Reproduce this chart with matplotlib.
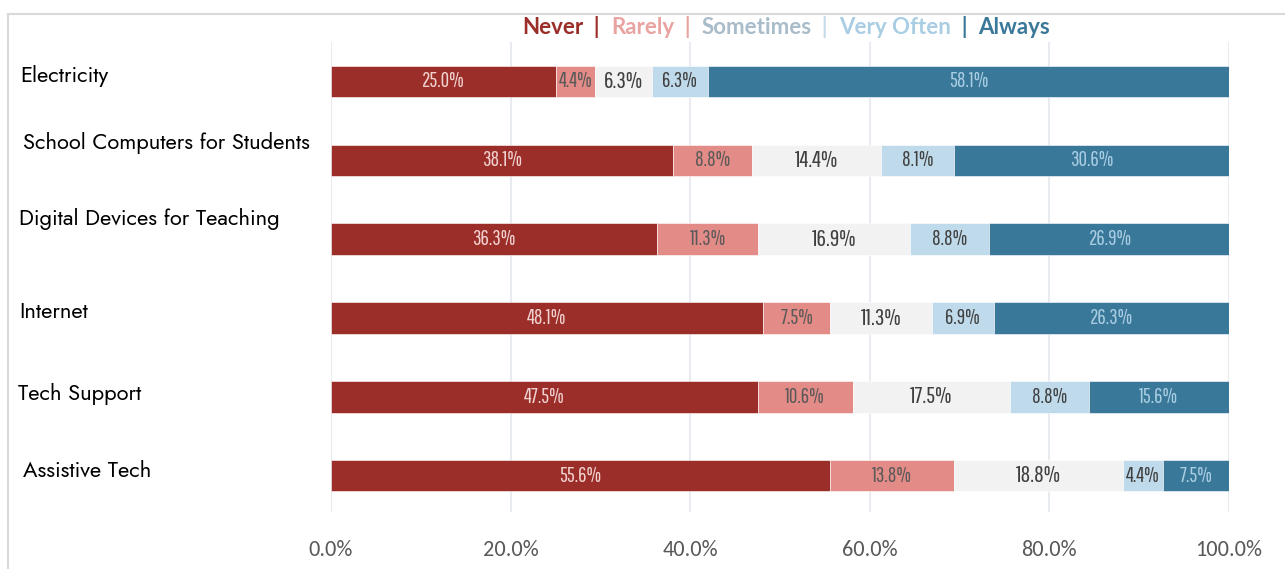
import matplotlib.pyplot as plt
import matplotlib.lines as mlines
from matplotlib import font_manager
import numpy as np

# survey: how often each resource is a barrier
categories = ["Electricity", "School Computers for Students", "Digital Devices for Teaching",
              "Internet", "Tech Support", "Assistive Tech"]
responses = ["Never", "Rarely", "Sometimes", "Very Often", "Always"]

never = [25.0, 38.1, 36.3, 48.1, 47.5, 55.6]
rarely = [4.4, 8.8, 11.3, 7.5, 10.6, 13.8]
sometimes = [6.3, 14.4, 16.9, 11.3, 17.5, 18.8]
very_often = [6.3, 8.1, 8.8, 6.9, 8.8, 4.4]
always = [58.1, 30.6, 26.9, 26.3, 15.6, 7.5]

xticks = [0, 20, 40, 60, 80, 100]

bar_colors = ["#9C2E2A", "#E38B87", "#F2F2F2", "#BFDAEA", "#3A7899"]
value_colors = ["#F0D2D0", "#595959", "#404040", "#404040", "#A9CDE3"]
value_sizes = [15, 15, 17, 15, 15]
legend_colors = ["#9C2E2A", "#E9A4A1", "#A9BCCA", "#A9CDE3", "#3A7899"]
sep_colors = ["#9C2E2A", "#E9A4A1", "#C5DCEA", "#3A7899"]

fontlist = font_manager.fontManager.ttflist
installed = {f.name for f in fontlist}


def pick(*names, bold=False):
    for n in names:
        if bold:
            if any(f.name == n and isinstance(f.weight, int) and f.weight >= 600
                   for f in fontlist):
                return n
        elif n in installed:
            return n
    return "DejaVu Sans"


narrow = pick("Pathway Gothic One", "Saira Extra Condensed", "Antonio", "Oswald")
label_font = pick("Jost", "Questrial", "Lato")
legend_font = pick("Jost", "League Spartan", "Lato", bold=True)
tick_font = pick("Carlito", "Open Sans")

W, H = 1285, 569
fig = plt.figure(figsize=(W / 100, H / 100), dpi=100)
ax = fig.add_axes([331 / W, (H - 512) / H, 898 / W, 470 / H])

series = [never, rarely, sometimes, very_often, always]
y = np.arange(len(categories))
left = np.zeros(len(categories))
for vals, color, tcolor, fs in zip(series, bar_colors, value_colors, value_sizes):
    vals = np.array(vals)
    ax.barh(y, vals, left=left, height=0.4, color=color, edgecolor="white",
            linewidth=0.4, zorder=3)
    for yi, (l, v) in enumerate(zip(left, vals)):
        ax.text(l + v / 2, yi, f"{v:.1f}%", ha="center", va="center",
                fontsize=fs, family=narrow, color=tcolor, zorder=4)
    left = left + vals

ax.set_xlim(0, 100)
ax.set_ylim(5.46, -0.5)
ax.set_xticks(xticks)
ax.set_xticklabels([f"{t:.1f}%" for t in xticks], fontsize=16, color="#595959",
                   family=tick_font)
ax.tick_params(axis="x", length=0, pad=20)
ax.set_yticks([])
ax.grid(axis="x", color="#E8ECF0", linewidth=1.5, zorder=0)
for s in ax.spines.values():
    s.set_visible(False)

# category names sit at the far left, a bit above their bars
pos = ax.get_position()
label_x = [20, 23, 19, 19, 18, 23]
label_dy = [0.07, 0.22, 0.25, 0.08, 0.03, 0.07]
for yi, (name, lx, dy) in enumerate(zip(categories, label_x, label_dy)):
    ax.text((lx / W - pos.x0) / pos.width, yi - dy, name,
            transform=ax.get_yaxis_transform(),
            fontsize=15.8, family=label_font, color="black", ha="left", va="center")

# colored legend line at the top
pieces = []
for i, (resp, col) in enumerate(zip(responses, legend_colors)):
    pieces.append((resp, col))
    if i < len(responses) - 1:
        pieces.append(("  |  ", sep_colors[i]))
first = fig.text(0.5, 1 - 27 / H, pieces[0][0], color=pieces[0][1], family=legend_font,
                 fontsize=16, fontweight="bold", ha="left", va="center")
texts = [first]
for txt, col in pieces[1:]:
    t = ax.annotate(txt, xy=(1, 0), xycoords=texts[-1], va="bottom", ha="left",
                    color=col, fontsize=16, fontweight="bold", family=legend_font,
                    annotation_clip=False)
    texts.append(t)
fig.canvas.draw()
r = fig.canvas.get_renderer()
x0 = texts[0].get_window_extent(r).x0
x1 = texts[-1].get_window_extent(r).x1
shift = (786 - (x0 + x1) / 2) / W
first.set_x(first.get_position()[0] + shift)

# light frame along top and left edges
fig.add_artist(mlines.Line2D([8 / W, 1], [1 - 14 / H] * 2, color="#D9D9D9", lw=1.5))
fig.add_artist(mlines.Line2D([8 / W] * 2, [0, 1 - 14 / H], color="#D9D9D9", lw=1.5))

fig.savefig("out.png", dpi=100)
